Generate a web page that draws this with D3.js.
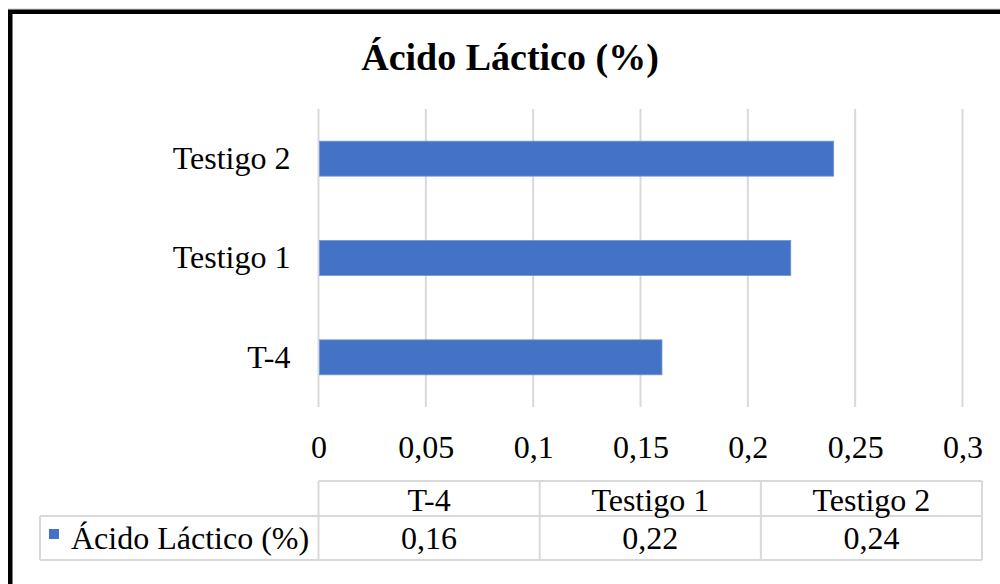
<!DOCTYPE html>
<html>
<head>
<meta charset="utf-8">
<script src="https://cdn.jsdelivr.net/npm/d3@7"></script>
<style>
  html, body { margin: 0; padding: 0; background: #fff; }
  svg { display: block; }
  text { font-family: "Liberation Serif", "Times New Roman", serif; fill: #000; }
</style>
</head>
<body>
<svg id="chart" width="1000" height="584"></svg>
<script>
// Series data
const title = "Ácido Láctico (%)";
const seriesName = "Ácido Láctico (%)";
const categories = ["T-4", "Testigo 1", "Testigo 2"];
const values = [0.16, 0.22, 0.24];
const tickValues = [0, 0.05, 0.1, 0.15, 0.2, 0.25, 0.3];
const valueLabels = ["0,16", "0,22", "0,24"];

const fmt = d => String(d).replace(".", ",");

const svg = d3.select("#chart");
const W = 1000, H = 584;
const barColor = "#4472C4";
const gridColor = "#d9d9d9";
const fontSize = 32;

svg.append("rect").attr("width", W).attr("height", H).attr("fill", "#fff");

// Outer frame
svg.append("line").attr("x1", 8).attr("x2", W).attr("y1", 9).attr("y2", 9)
  .attr("stroke", "#cfcfcf").attr("stroke-width", 1);
svg.append("rect")
  .attr("x", 10.25).attr("y", 11.75)
  .attr("width", W + 20).attr("height", H + 20)
  .attr("fill", "none").attr("stroke", "#000").attr("stroke-width", 4.5);

// Plot area
const plot = { left: 318.5, right: 962.5, top: 109, bottom: 407 };

const x = d3.scaleLinear().domain([0, 0.3]).range([plot.left, plot.right]);
const y = d3.scaleBand()
  .domain(categories.slice().reverse())
  .range([plot.top, plot.bottom])
  .paddingInner(0.648)
  .paddingOuter(0.324);

// Title
svg.append("text")
  .attr("x", 510).attr("y", 70)
  .attr("text-anchor", "middle")
  .attr("font-size", 38).attr("font-weight", "bold")
  .text(title);

// Vertical gridlines
svg.append("g")
  .selectAll("line")
  .data(tickValues)
  .join("line")
  .attr("x1", d => x(d)).attr("x2", d => x(d))
  .attr("y1", plot.top).attr("y2", plot.bottom)
  .attr("stroke", gridColor).attr("stroke-width", 2);

// Bars
svg.append("g")
  .selectAll("rect")
  .data(categories.map((c, i) => ({ c, v: values[i] })))
  .join("rect")
  .attr("x", x(0) + 1)
  .attr("y", d => y(d.c))
  .attr("width", d => x(d.v) - x(0) - 1)
  .attr("height", y.bandwidth())
  .attr("fill", barColor)
  .attr("stroke", "#6f94d6").attr("stroke-width", 0.8);

// Category axis labels
const yAxis = d3.axisLeft(y).tickSize(0).tickPadding(28);
const gy = svg.append("g").attr("transform", `translate(${plot.left},0)`).call(yAxis);
gy.select(".domain").remove();
gy.selectAll("text")
  .attr("font-size", fontSize)
  .attr("font-family", "Liberation Serif, serif")
  .attr("fill", "#000");

// Value axis labels
const xAxis = d3.axisBottom(x).tickValues(tickValues).tickFormat(fmt).tickSize(0);
const gx = svg.append("g").attr("transform", `translate(0,${plot.bottom})`).call(xAxis);
gx.select(".domain").remove();
gx.selectAll("text")
  .attr("y", 40)
  .attr("dy", "0.35em")
  .attr("font-size", fontSize)
  .attr("font-family", "Liberation Serif, serif")
  .attr("fill", "#000");

// Data table
const table = { left: 318.5, right: 982, legendLeft: 40, top: 481, mid: 516, bottom: 560 };
const col = d3.scaleBand().domain(categories).range([table.left, table.right]);
const tg = svg.append("g").attr("stroke", gridColor).attr("stroke-width", 2);
tg.append("line").attr("x1", table.left).attr("x2", table.right).attr("y1", table.top).attr("y2", table.top);
tg.append("line").attr("x1", table.legendLeft).attr("x2", table.right).attr("y1", table.mid).attr("y2", table.mid);
tg.append("line").attr("x1", table.legendLeft).attr("x2", table.right).attr("y1", table.bottom).attr("y2", table.bottom);
tg.append("line").attr("x1", table.legendLeft).attr("x2", table.legendLeft).attr("y1", table.mid).attr("y2", table.bottom);
tg.selectAll("line.col")
  .data(categories.concat(["_end"]))
  .join("line").attr("class", "col")
  .attr("x1", d => d === "_end" ? table.right : col(d))
  .attr("x2", d => d === "_end" ? table.right : col(d))
  .attr("y1", table.top).attr("y2", table.bottom);

svg.append("g").selectAll("text")
  .data(categories)
  .join("text")
  .attr("x", d => col(d) + col.bandwidth() / 2)
  .attr("y", (table.top + table.mid) / 2 + 1)
  .attr("dy", "0.35em")
  .attr("text-anchor", "middle")
  .attr("font-size", fontSize)
  .text(d => d);

svg.append("g").selectAll("text")
  .data(categories.map((c, i) => ({ c, label: valueLabels[i] })))
  .join("text")
  .attr("x", d => col(d.c) + col.bandwidth() / 2)
  .attr("y", (table.mid + table.bottom) / 2)
  .attr("dy", "0.35em")
  .attr("text-anchor", "middle")
  .attr("font-size", fontSize)
  .text(d => d.label);

// Legend key in table row header
svg.append("rect")
  .attr("x", 49).attr("y", 529).attr("width", 10).attr("height", 10)
  .attr("fill", barColor);
svg.append("text")
  .attr("x", 71).attr("y", (table.mid + table.bottom) / 2)
  .attr("dy", "0.35em")
  .attr("font-size", fontSize)
  .text(seriesName);
</script>
</body>
</html>
